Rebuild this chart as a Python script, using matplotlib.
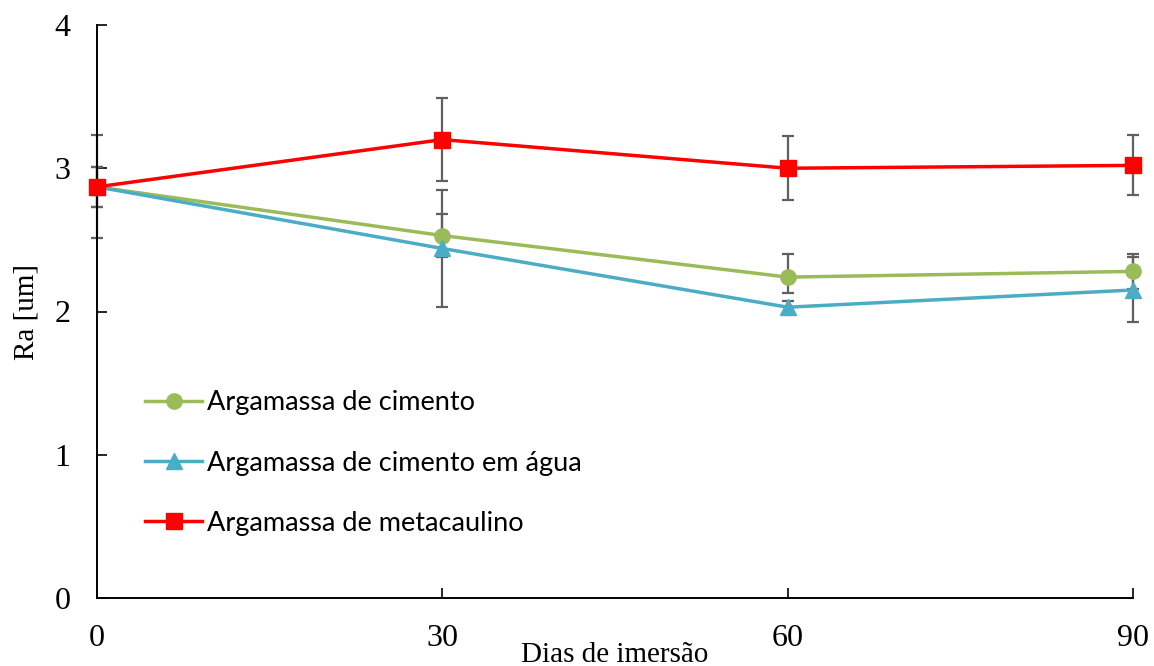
import matplotlib
matplotlib.use("Agg")
import matplotlib.pyplot as plt

dias = [0, 30, 60, 90]
cimento = [2.87, 2.53, 2.24, 2.28]
cimento_err_lo = [0.36, 0.15, 0.11, 0.12]
cimento_err_hi = [0.36, 0.15, 0.16, 0.12]
agua = [2.87, 2.44, 2.03, 2.15]
agua_err_lo = [0.14, 0.41, 0.04, 0.22]
agua_err_hi = [0.14, 0.41, 0.04, 0.23]
meta = [2.87, 3.20, 3.00, 3.02]
meta_err = [0.14, 0.29, 0.225, 0.21]

labels = ["Argamassa de cimento", "Argamassa de cimento em água", "Argamassa de metacaulino"]
colors = ["#9BBB59", "#4BACC6", "#FF0000"]
yticks = [0, 1, 2, 3, 4]
xticks = [0, 30, 60, 90]

fig = plt.figure(figsize=(11.54, 6.66), dpi=100)
ax = fig.add_axes([97/1154, 1-598/666, (1133-97)/1154, (598-25)/666])

serif = ["Liberation Serif", "DejaVu Serif"]
ecol = "#606060"

series = [
    (cimento, [cimento_err_lo, cimento_err_hi], "o", 11),
    (agua, [agua_err_lo, agua_err_hi], "^", 12),
    (meta, [meta_err, meta_err], "s", 11),
]
for (vals, err, mk, ms), lab, c in zip(series, labels, colors):
    ax.errorbar(dias, vals, yerr=err, fmt="none", ecolor=ecol, elinewidth=1.6,
                capsize=4.5, capthick=1.6, zorder=2, clip_on=False)
for (vals, err, mk, ms), lab, c in zip(series, labels, colors):
    ax.plot(dias, vals, color=c, marker=mk, markersize=ms, linewidth=2.5,
            label=lab, zorder=3, clip_on=False)

ax.set_xlim(0, 90)
ax.set_ylim(0, 4)
ax.set_xticks(xticks)
ax.set_yticks(yticks)
ax.spines["top"].set_visible(False)
ax.spines["right"].set_visible(False)
for s in ("left", "bottom"):
    ax.spines[s].set_linewidth(1.4)
    ax.spines[s].set_color("black")
ax.tick_params(direction="in", length=7, width=1.2, pad=19, labelsize=23)
for t in ax.get_xticklabels() + ax.get_yticklabels():
    t.set_fontfamily(serif)

ax.set_xlabel("Dias de imersão", fontsize=21, fontfamily=serif)
ax.xaxis.set_label_coords(0.5, (598-655)/573)
ax.xaxis.label.set_va("center")
ax.set_ylabel("Ra [um]", fontsize=21, fontfamily=serif)
ax.yaxis.set_label_coords((27-97)/1036, 0.5)
ax.yaxis.label.set_va("center")

leg = ax.legend(loc="upper left", bbox_to_anchor=(0.023, 0.405), frameon=False,
                prop={"family": ["Lato", "DejaVu Sans"], "size": 19.5},
                handlelength=2.1, handletextpad=0.18, labelspacing=1.3)

fig.savefig("out.png", dpi=100)
